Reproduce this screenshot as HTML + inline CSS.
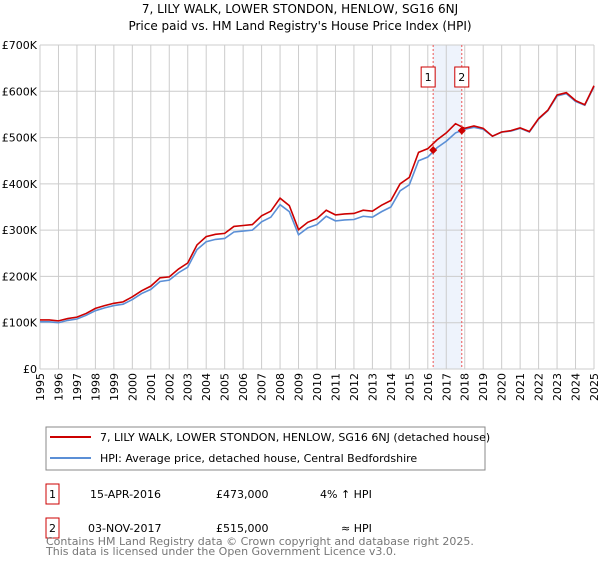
<!DOCTYPE html>
<html><head><meta charset="utf-8"><style>
body{margin:0;background:#fff;font-family:"Liberation Sans","DejaVu Sans",sans-serif;}
svg text{font-family:"DejaVu Sans","Liberation Sans",sans-serif;}
</style></head><body>
<svg id="c" width="600" height="560" xmlns="http://www.w3.org/2000/svg">
<text x="300" y="13" text-anchor="middle" font-size="12">7, LILY WALK, LOWER STONDON, HENLOW, SG16 6NJ</text>
<text x="300" y="30" text-anchor="middle" font-size="12">Price paid vs. HM Land Registry's House Price Index (HPI)</text>
<g id="grid"></g><g id="marks"></g><g id="axes"></g>
<rect x="46" y="427" width="439" height="43" fill="#fff" stroke="#888"/>
<line x1="50" y1="437" x2="91" y2="437" stroke="#cc0000" stroke-width="2"/>
<text x="100" y="441" font-size="11">7, LILY WALK, LOWER STONDON, HENLOW, SG16 6NJ (detached house)</text>
<line x1="50" y1="458" x2="91" y2="458" stroke="#5b8fd6" stroke-width="2"/>
<text x="100" y="462" font-size="11">HPI: Average price, detached house, Central Bedfordshire</text>
<rect x="46" y="484" width="13" height="20" fill="none" stroke="#cc0000"/>
<text x="52.5" y="498" font-size="11" text-anchor="middle">1</text>
<text x="90" y="498" font-size="11">15-APR-2016</text>
<text x="216" y="498" font-size="11">£473,000</text>
<text x="320" y="498" font-size="11">4% ↑ HPI</text>
<rect x="46" y="518" width="13" height="20" fill="none" stroke="#cc0000"/>
<text x="52.5" y="532" font-size="11" text-anchor="middle">2</text>
<text x="88" y="532" font-size="11">03-NOV-2017</text>
<text x="216" y="532" font-size="11">£515,000</text>
<text x="341" y="532" font-size="11">≈ HPI</text>
<text x="46" y="545" font-size="11" fill="#777">Contains HM Land Registry data © Crown copyright and database right 2025.</text>
<text x="46" y="555" font-size="11" fill="#777">This data is licensed under the Open Government Licence v3.0.</text>
</svg>
<script>
const years=[1995,1995.5,1996,1996.5,1997,1997.5,1998,1998.5,1999,1999.5,2000,2000.5,2001,2001.5,2002,2002.5,2003,2003.5,2004,2004.5,2005,2005.5,2006,2006.5,2007,2007.5,2008,2008.5,2009,2009.5,2010,2010.5,2011,2011.5,2012,2012.5,2013,2013.5,2014,2014.5,2015,2015.5,2016,2016.5,2017,2017.5,2018,2018.5,2019,2019.5,2020,2020.5,2021,2021.5,2022,2022.5,2023,2023.5,2024,2024.5,2025];
const hpi=[102,102,100,105,108,116,126,132,137,140,150,163,172,189,192,208,220,258,275,280,282,296,298,300,318,328,355,340,290,305,312,330,320,322,323,330,328,340,350,385,398,450,458,478,492,510,518,522,518,503,512,514,520,512,540,558,590,595,578,570,610];
const property=[106,106,104,109,112,120,131,137,142,145,156,169,179,197,199,216,229,268,286,291,293,308,310,312,331,341,369,353,301,317,325,343,333,335,336,343,341,354,364,400,414,468,476,495,510,530,520,525,520,503,512,515,521,513,541,559,592,597,580,571,612];
const sales=[2016.29,2017.84];
const salePrices=[473,515];
const yTicks=[0,100,200,300,400,500,600,700];
const yLabels=["£0","£100K","£200K","£300K","£400K","£500K","£600K","£700K"];
const xTicks=[1995,1996,1997,1998,1999,2000,2001,2002,2003,2004,2005,2006,2007,2008,2009,2010,2011,2012,2013,2014,2015,2016,2017,2018,2019,2020,2021,2022,2023,2024,2025];
const X0=40,X1=594,Y0=369,Y1=45;
const xs=v=>X0+(v-1995)/30*(X1-X0);
const ys=v=>Y0-v/700*(Y0-Y1);
const NS="http://www.w3.org/2000/svg";
function mk(t,a,p){const e=document.createElementNS(NS,t);for(const k in a)e.setAttribute(k,a[k]);p.appendChild(e);return e;}
const grid=document.getElementById('grid'),marks=document.getElementById('marks'),axes=document.getElementById('axes');
const band=mk('rect',{x:xs(sales[0]),y:Y1,width:xs(sales[1])-xs(sales[0]),height:Y0-Y1,fill:'#eef3fc'},grid);


yTicks.forEach((v,i)=>{
 const l=mk('line',{x1:X0,x2:X1,y1:ys(v),y2:ys(v),stroke:'#ccc'},grid);
 
 
 const t=mk('text',{x:X0-3,y:ys(v)+4,'text-anchor':'end','font-size':11},axes);
 t.textContent=yLabels[i];
 
 
});
xTicks.forEach(v=>{
 const l=mk('line',{x1:xs(v),x2:xs(v),y1:Y1,y2:Y0,stroke:'#ccc'},grid);
 
 
 const t=mk('text',{x:xs(v)+4,y:Y0+4,'text-anchor':'end','font-size':11,transform:`rotate(-90 ${xs(v)+4} ${Y0+4})`},axes);
 t.textContent=v;
 
 
});
function line(arr,col,name){
 const p=mk('polyline',{points:arr.map((v,i)=>xs(years[i])+','+ys(v)).join(' '),fill:'none',stroke:col,'stroke-width':1.6},marks);
 
 
}
line(hpi,'#5b8fd6','hpi-line');
line(property,'#cc0000','property-line');
sales.forEach((s,i)=>{
 const vl=mk('line',{x1:xs(s),x2:xs(s),y1:Y1,y2:Y0,stroke:'#e55','stroke-dasharray':'2,2'},marks);
 
 
 const cx=xs(s),cy=ys(salePrices[i]);
 const d=mk('polygon',{points:`${cx},${cy-4} ${cx+4},${cy} ${cx},${cy+4} ${cx-4},${cy}`,fill:'#cc0000'},marks);
 
 
 const bx=i===0?cx-12:cx-7;
 const b=mk('rect',{x:bx,y:67,width:14,height:20,fill:'#fff',stroke:'#cc0000'},marks);
 
 
 const t=mk('text',{x:bx+7,y:81,'text-anchor':'middle','font-size':11},marks);
 t.textContent=String(i+1);
 
 
});
</script>
</body></html>
